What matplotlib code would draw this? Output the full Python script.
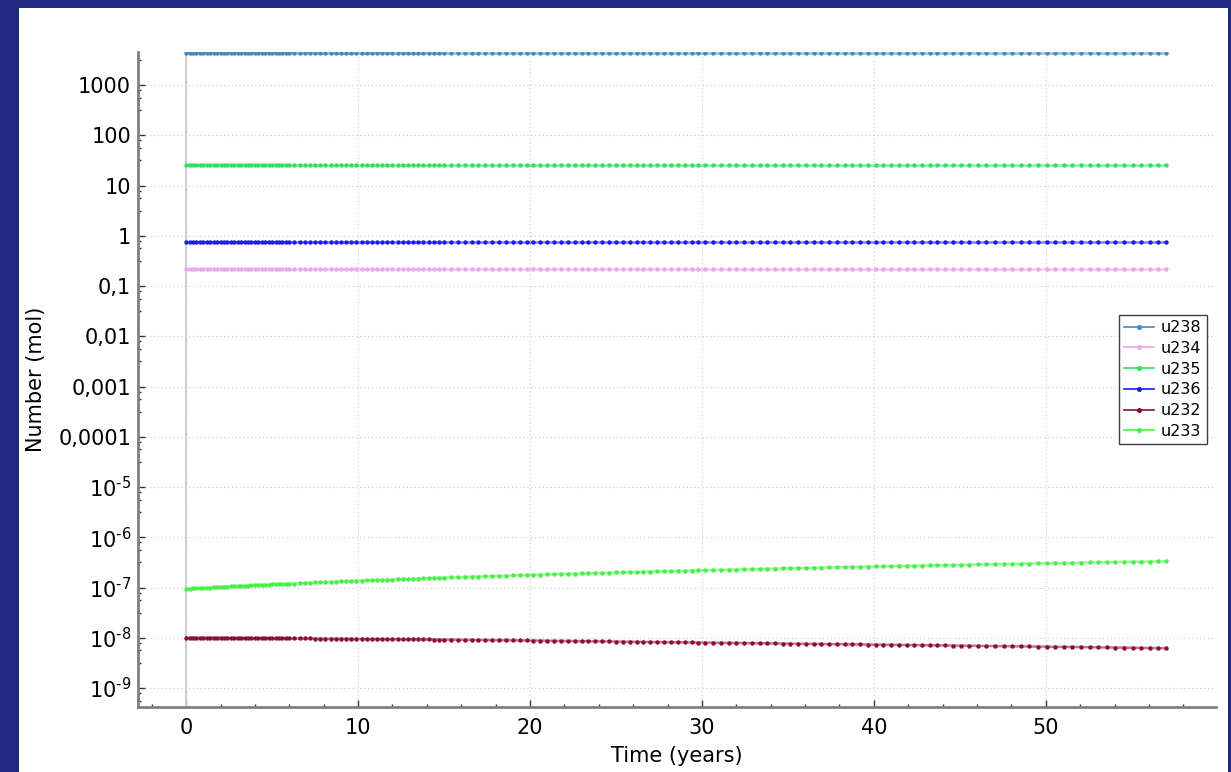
#!/usr/bin/env python3
"""Uranium isotope inventory over time, log-scale line chart."""

import matplotlib

matplotlib.use("Agg")
import matplotlib.pyplot as plt
from matplotlib.lines import Line2D
from matplotlib.patches import Rectangle

# sample times (years)
TIME = [
    0.0, 0.2, 0.4, 0.6, 0.8, 1.0, 1.2, 1.4, 1.6, 1.8, 2.0, 2.2, 2.4, 2.6, 2.8, 3.0,
    3.2, 3.4, 3.6, 3.8, 4.0, 4.2, 4.4, 4.6, 4.8, 5.0, 5.2, 5.4, 5.6, 5.8, 6.0,
    6.3, 6.6, 6.9, 7.2, 7.5, 7.8, 8.1, 8.4, 8.7, 9.0, 9.3, 9.6, 9.9, 10.2, 10.5,
    10.8, 11.1, 11.4, 11.7, 12.0, 12.3, 12.6, 12.9, 13.2, 13.5, 13.8, 14.1, 14.4,
    14.7, 15.0,
    15.4, 15.8, 16.2, 16.6, 17.0, 17.4, 17.8, 18.2, 18.6, 19.0, 19.4, 19.8, 20.2,
    20.6, 21.0, 21.4, 21.8, 22.2, 22.6, 23.0, 23.4, 23.8, 24.2, 24.6, 25.0, 25.4,
    25.8, 26.2, 26.6, 27.0, 27.4, 27.8, 28.2, 28.6, 29.0, 29.4, 29.8, 30.2,
    30.65, 31.1, 31.55, 32.0, 32.45, 32.9, 33.35, 33.8, 34.25, 34.7, 35.15, 35.6,
    36.05, 36.5, 36.95, 37.4, 37.85, 38.3, 38.75, 39.2, 39.65, 40.1, 40.55, 41.0,
    41.45, 41.9, 42.35, 42.8, 43.25, 43.7, 44.15, 44.6, 45.05,
    45.55, 46.05, 46.55, 47.05, 47.55, 48.05, 48.55, 49.05, 49.55, 50.05, 50.55,
    51.05, 51.55, 52.05, 52.55, 53.05, 53.55, 54.05, 54.55, 55.05, 55.55, 56.05,
    56.55, 57.0,
]

# u233 in units of 1e-7 mol
U233_E7 = [
    0.94, 0.95, 0.96, 0.97, 0.97, 0.98, 0.99, 1.00, 1.01, 1.02, 1.02, 1.03, 1.04,
    1.05, 1.06, 1.07, 1.07, 1.08, 1.09, 1.10, 1.11, 1.12, 1.12, 1.13, 1.14, 1.15,
    1.16, 1.17, 1.18, 1.18, 1.19,
    1.20, 1.22, 1.23, 1.24, 1.26, 1.27, 1.28, 1.29, 1.31, 1.32, 1.33, 1.34, 1.36,
    1.37, 1.38, 1.39, 1.41, 1.42, 1.43, 1.44, 1.46, 1.47, 1.48, 1.49, 1.51, 1.52,
    1.53, 1.55, 1.56, 1.57,
    1.59, 1.60, 1.62, 1.64, 1.65, 1.67, 1.69, 1.70, 1.72, 1.74, 1.76, 1.77, 1.79,
    1.81, 1.82, 1.84, 1.86, 1.87, 1.89, 1.91, 1.92, 1.94, 1.96, 1.97, 1.99, 2.01,
    2.02, 2.04, 2.06, 2.07, 2.09, 2.11, 2.12, 2.14, 2.16, 2.17, 2.19, 2.21,
    2.23, 2.25, 2.27, 2.28, 2.30, 2.32, 2.34, 2.36, 2.38, 2.40, 2.42, 2.44, 2.45,
    2.47, 2.49, 2.51, 2.53, 2.55, 2.57, 2.59, 2.61, 2.62, 2.64, 2.66, 2.68, 2.70,
    2.72, 2.74, 2.76, 2.78, 2.79, 2.81, 2.83,
    2.85, 2.87, 2.90, 2.92, 2.94, 2.96, 2.98, 3.00, 3.02, 3.04, 3.06, 3.08, 3.11,
    3.13, 3.15, 3.17, 3.19, 3.21, 3.23, 3.25, 3.27, 3.29, 3.32, 3.33,
]

# u232 in units of 1e-8 mol
U232_E8 = [
    1.000, 0.999, 0.998, 0.997, 0.996, 0.996, 0.995, 0.994, 0.993, 0.992, 0.991,
    0.990, 0.989, 0.988, 0.987, 0.987, 0.986, 0.985, 0.984, 0.983, 0.982, 0.981,
    0.980, 0.979, 0.978, 0.978, 0.977, 0.976, 0.975, 0.974, 0.973,
    0.972, 0.970, 0.969, 0.968, 0.966, 0.965, 0.964, 0.962, 0.961, 0.960, 0.958,
    0.957, 0.955, 0.954, 0.951, 0.949, 0.947, 0.945, 0.942, 0.940, 0.938, 0.936,
    0.933, 0.931, 0.929, 0.927, 0.924, 0.922, 0.920, 0.918,
    0.915, 0.912, 0.909, 0.906, 0.903, 0.900, 0.897, 0.894, 0.891, 0.888, 0.885,
    0.882, 0.878, 0.875, 0.872, 0.869, 0.866, 0.862, 0.859, 0.856, 0.853, 0.850,
    0.846, 0.843, 0.840, 0.837, 0.834, 0.830, 0.827, 0.824, 0.821, 0.818, 0.814,
    0.811, 0.808, 0.805, 0.802, 0.799,
    0.795, 0.792, 0.789, 0.786, 0.783, 0.780, 0.777, 0.773, 0.770, 0.767, 0.764,
    0.761, 0.758, 0.755, 0.751, 0.748, 0.745, 0.742, 0.739, 0.736, 0.732, 0.729,
    0.726, 0.724, 0.721, 0.718, 0.715, 0.712, 0.709, 0.706, 0.703, 0.700, 0.697,
    0.694, 0.691, 0.687, 0.684, 0.681, 0.678, 0.674, 0.671, 0.668, 0.665, 0.661,
    0.658, 0.655, 0.652, 0.649, 0.645, 0.642, 0.639, 0.636, 0.633, 0.629, 0.626,
    0.623, 0.620,
]

# flat inventories (mol)
U238_LEVEL = 4340.0
U235_LEVEL = 25.4
U236_LEVEL = 0.76
U234_LEVEL = 0.22

LEGEND_ORDER = ["u238", "u234", "u235", "u236", "u232", "u233"]
COLORS = {
    "u238": "#3f8cc2",
    "u234": "#eaa6ea",
    "u235": "#30e05c",
    "u236": "#1a1af0",
    "u232": "#8c0a3c",
    "u233": "#46f046",
}

Y_MAJOR = [1e-9, 1e-8, 1e-7, 1e-6, 1e-5, 1e-4, 1e-3, 1e-2, 1e-1, 1, 10, 100, 1000]
Y_LABELS = [
    "$\\mathregular{10^{\u20109}}$", "$\\mathregular{10^{\u20108}}$",
    "$\\mathregular{10^{\u20107}}$", "$\\mathregular{10^{\u20106}}$",
    "$\\mathregular{10^{\u20105}}$", "0,0001", "0,001", "0,01", "0,1",
    "1", "10", "100", "1000",
]
X_MAJOR = [0, 10, 20, 30, 40, 50]

NAVY = "#1f2a80"


def build_series():
    n = len(TIME)
    return {
        "u238": [U238_LEVEL] * n,
        "u234": [U234_LEVEL] * n,
        "u235": [U235_LEVEL] * n,
        "u236": [U236_LEVEL] * n,
        "u232": [v * 1e-8 for v in U232_E8],
        "u233": [v * 1e-7 for v in U233_E7],
    }


def main():
    fig = plt.figure(figsize=(12.31, 7.72), dpi=100, facecolor=NAVY)
    fig.patches.append(Rectangle((19 / 1231, 0), (1228 - 19) / 1231, (772 - 8) / 772,
                                 transform=fig.transFigure, facecolor="white",
                                 edgecolor="none", zorder=-10))
    ax = fig.add_axes([138 / 1231, 65 / 772, 1078 / 1231, 655 / 772])
    ax.set_zorder(1)
    ax.set_facecolor("white")

    series = build_series()
    for name in LEGEND_ORDER:
        color = COLORS[name]
        ax.plot(TIME, series[name], color=color, linewidth=1.8, alpha=0.55, zorder=3)
        ax.plot(TIME, series[name], linestyle="none", marker="o", markersize=2.8,
                markerfacecolor=color, markeredgecolor=color, markeredgewidth=0.3, zorder=4)

    ax.set_yscale("log")

    ax.set_yticks(Y_MAJOR)
    ax.set_yticklabels(Y_LABELS)
    minors = []
    for n in range(-9, 5):
        for off in (0.1, 0.25, 0.5):
            minors.append(10 ** (n - off))
    ax.set_yticks(minors, minor=True)
    ax.set_xticks(X_MAJOR)
    ax.set_xticks(list(range(-2, 60, 2)), minor=True)
    # limits after the ticks, set_ticks would widen them otherwise
    ax.set_xlim(-2.8, 59.9)
    ax.set_ylim(10 ** -9.378, 10 ** 3.657)

    ax.tick_params(axis="both", which="major", direction="in", length=5, width=1,
                   color="#333333", labelsize=15, labelcolor="black")
    ax.tick_params(axis="both", which="minor", direction="in", length=2.5, width=1,
                   color="#333333")
    ax.tick_params(axis="y", which="major", pad=5)
    ax.tick_params(axis="x", which="major", pad=8)

    ax.grid(True, which="major", color="#c8c8c8", linewidth=0.8, linestyle=(0, (1, 2.5)))
    ax.axvline(0, color="#cfcfcf", linewidth=1.5, zorder=1)
    ax.set_axisbelow(True)

    for side in ("top", "right"):
        ax.spines[side].set_visible(False)
    for side in ("left", "bottom"):
        ax.spines[side].set_color("#808080")
        ax.spines[side].set_linewidth(2)

    ax.set_xlabel("Time (years)", fontsize=15)
    ax.set_ylabel("Number (mol)", fontsize=15)
    ax.xaxis.set_label_coords(0.5, -0.059)
    ax.yaxis.set_label_coords(-0.085, 0.5)

    handles = [Line2D([], [], color=COLORS[name], linewidth=1.2, marker="o", markersize=2.6)
               for name in LEGEND_ORDER]
    leg = ax.legend(handles, LEGEND_ORDER, loc="upper left",
                    bbox_to_anchor=(1119 / 1231, (772 - 315) / 772),
                    bbox_transform=fig.transFigure, borderaxespad=0, fontsize=11.5,
                    frameon=True, fancybox=False, shadow=False, numpoints=1,
                    handlelength=1.9, handletextpad=0.4, labelspacing=0.36,
                    borderpad=0.32)
    leg.get_frame().set_edgecolor("#404040")
    leg.get_frame().set_linewidth(1)
    leg.get_frame().set_alpha(1)

    fig.savefig("out.png", dpi=100, facecolor=fig.get_facecolor())
    plt.close(fig)


if __name__ == "__main__":
    main()
